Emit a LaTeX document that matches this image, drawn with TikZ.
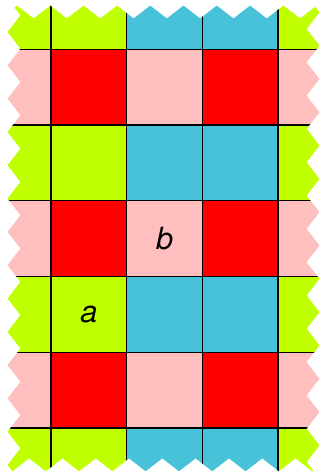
\documentclass[tikz,border=0pt]{standalone}
\usepackage{fontspec}
\setsansfont{TeX Gyre Heros}
\usepackage{xcolor}
\usetikzlibrary{
    decorations.pathmorphing
  }
\definecolor{limecolor}{RGB}{192,255,0}
\definecolor{cyancolor}{RGB}{72,194,216}
\definecolor{pinkcolor}{RGB}{255,191,191}
\definecolor{redcolor}{RGB}{255,0,0}
\tikzset{
  gridline/.style={draw=black, line width=0.5pt},
  torn edge/.style={decoration={zigzag, segment length=4.4mm, amplitude=0.85mm}},
  cell label/.style={font=\sffamily\itshape\fontsize{11.5}{12}\selectfont}
}

\begin{document}
\begin{tikzpicture}[x=1cm, y=1cm]

\useasboundingbox (-0.674,-0.582) rectangle (3.566,5.653);

\begin{scope}
\clip[torn edge]
  (-1,6) -- (-0.489,6) decorate{ -- (-0.489,-1) } --
    (3.461,-1) decorate{ -- (3.461,6) } --
    cycle
;
\clip[torn edge]
  (-1,5.494) decorate{ -- (4,5.494) } --
    (4,-0.487) decorate{ -- (-1,-0.487) } --
    cycle
;

\foreach \y in {-1,1,3,5} {
  \path[fill=limecolor] (-1,\y) rectangle ++(2,1);
  \path[fill=cyancolor] (1,\y) rectangle ++(2,1);
  \path[fill=limecolor] (3,\y) rectangle ++(1,1);
}
\foreach \y in {0,2,4} {
  \path[fill=pinkcolor] (-1,\y) rectangle ++(5,1);
  \path[fill=redcolor] (0,\y) rectangle ++(1,1);
  \path[fill=redcolor] (2,\y) rectangle ++(1,1);
}

\foreach \x in {0,...,3}
  \path[gridline] (\x,-1) -- (\x,6);
\foreach \y in {0,...,5}
  \path[gridline] (-1,\y) -- (4,\y);
\end{scope}

\node[cell label] (a) at (0.5,1.5) {a};
\node[cell label] (b) at (1.5,2.5) {b};

\end{tikzpicture}
\end{document}
